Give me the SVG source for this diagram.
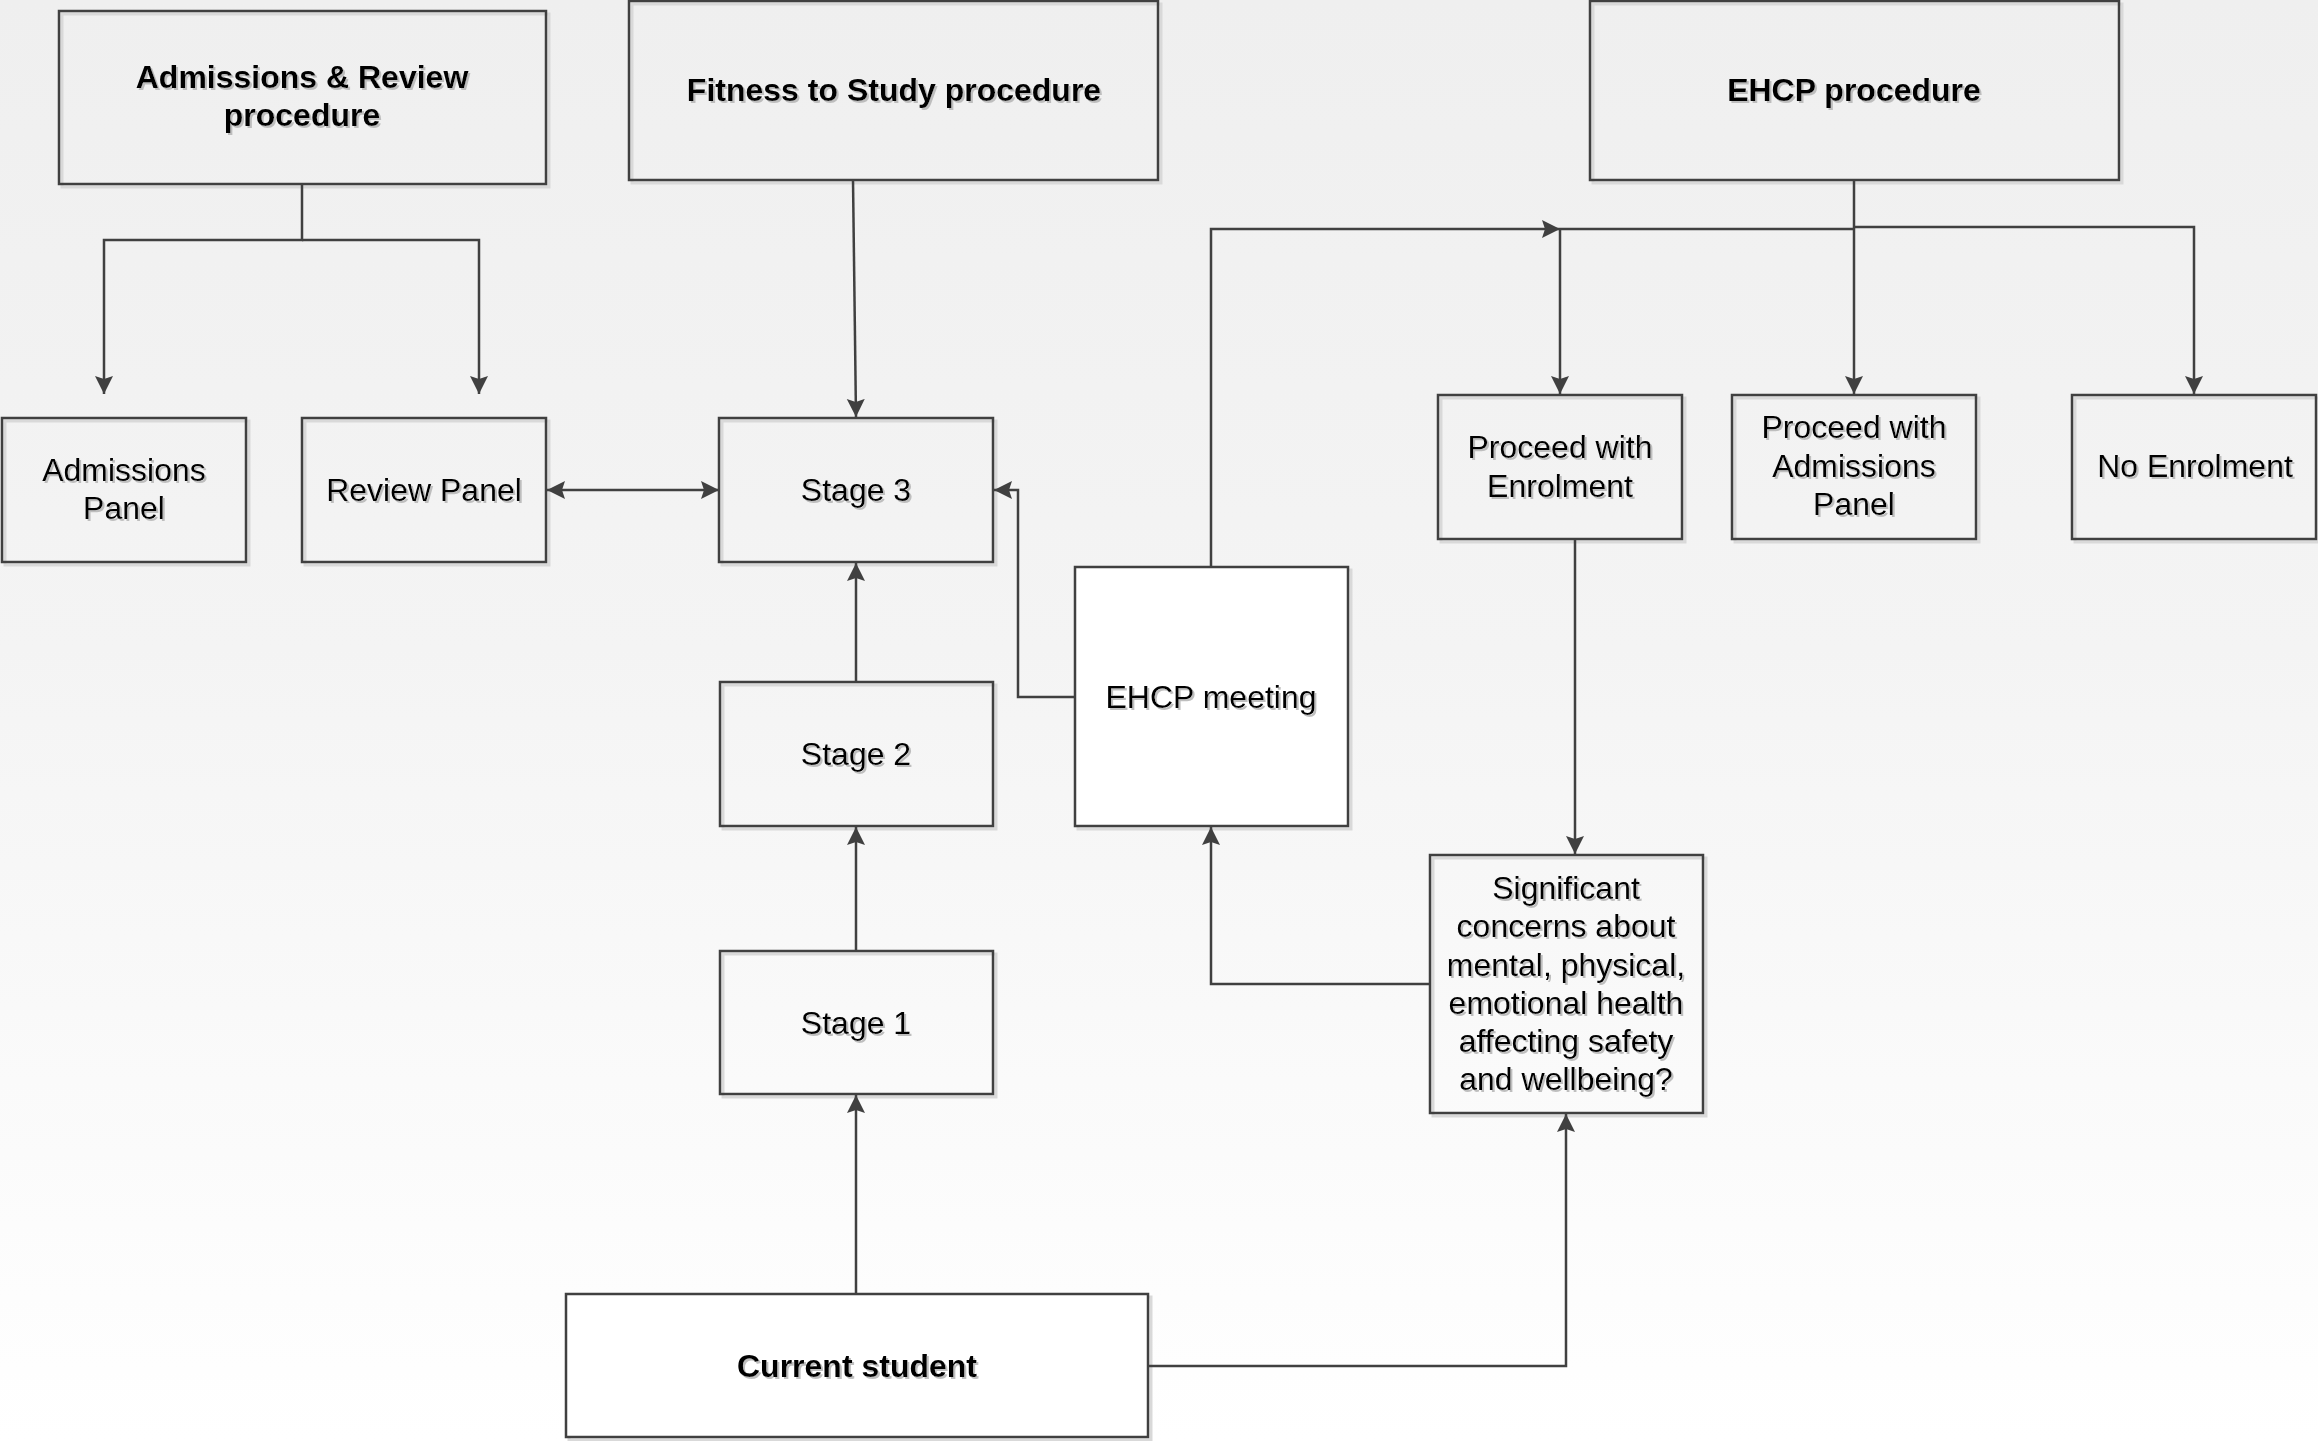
<svg xmlns="http://www.w3.org/2000/svg" width="2318" height="1441" viewBox="0 0 2318 1441">
<defs>
<linearGradient id="bg" x1="0" y1="0" x2="0" y2="1">
<stop offset="0" stop-color="#efefef"/>
<stop offset="0.45" stop-color="#f4f4f4"/>
<stop offset="1" stop-color="#ffffff"/>
</linearGradient>
<filter id="ts" x="-5%" y="-20%" width="110%" height="140%">
<feDropShadow dx="2" dy="2" stdDeviation="0.6" flood-color="#b8b8b8" flood-opacity="0.9"/>
</filter>
<marker id="arr" markerUnits="userSpaceOnUse" markerWidth="20" markerHeight="20" viewBox="0 0 20 20" refX="18" refY="9" orient="auto-start-reverse">
<path d="M0,0 L18,9 L0,18 L3,9 z" fill="#404040"/>
</marker>
<style>
.box{fill:none;stroke:#404040;stroke-width:2.5}
.wbox{fill:#ffffff;stroke:#404040;stroke-width:2.5}
.sh{fill:none;stroke:#d9d9d9;stroke-width:3}
.t{font-family:"Liberation Sans",Arial,sans-serif;font-size:32px;fill:#000;text-anchor:middle;filter:url(#ts)}
.b{font-weight:bold}
.c{fill:none;stroke:#404040;stroke-width:2.5}
</style>
</defs>
<rect x="0" y="0" width="2318" height="1441" fill="url(#bg)"/>

<g id="admissions-review-procedure">
<rect class="sh" x="62" y="14" width="487" height="173"/>
<rect class="box" x="59" y="11" width="487" height="173"/>
<text class="t b" x="302" y="88">Admissions &amp; Review</text>
<text class="t b" x="302" y="126">procedure</text>
</g>

<g id="fitness-to-study-procedure">
<rect class="sh" x="632" y="4" width="529" height="179"/>
<rect class="box" x="629" y="1" width="529" height="179"/>
<text class="t b" x="894" y="101">Fitness to Study procedure</text>
</g>

<g id="ehcp-procedure">
<rect class="sh" x="1593" y="4" width="529" height="179"/>
<rect class="box" x="1590" y="1" width="529" height="179"/>
<text class="t b" x="1854" y="101">EHCP procedure</text>
</g>

<g id="admissions-panel">
<rect class="sh" x="5" y="421" width="244" height="144"/>
<rect class="box" x="2" y="418" width="244" height="144"/>
<text class="t" x="124" y="481">Admissions</text>
<text class="t" x="124" y="519">Panel</text>
</g>

<g id="review-panel">
<rect class="sh" x="305" y="421" width="244" height="144"/>
<rect class="box" x="302" y="418" width="244" height="144"/>
<text class="t" x="424" y="501">Review Panel</text>
</g>

<g id="stage-3">
<rect class="sh" x="722" y="421" width="274" height="144"/>
<rect class="box" x="719" y="418" width="274" height="144"/>
<text class="t" x="856" y="501">Stage 3</text>
</g>

<g id="stage-2">
<rect class="sh" x="723" y="685" width="273" height="144"/>
<rect class="box" x="720" y="682" width="273" height="144"/>
<text class="t" x="856" y="765">Stage 2</text>
</g>

<g id="stage-1">
<rect class="sh" x="723" y="954" width="273" height="143"/>
<rect class="box" x="720" y="951" width="273" height="143"/>
<text class="t" x="856" y="1034">Stage 1</text>
</g>

<g id="ehcp-meeting">
<rect class="sh" x="1078" y="570" width="273" height="259"/>
<rect class="wbox" x="1075" y="567" width="273" height="259"/>
<text class="t" x="1211" y="708">EHCP meeting</text>
</g>

<g id="current-student">
<rect class="sh" x="569" y="1297" width="582" height="143"/>
<rect class="wbox" x="566" y="1294" width="582" height="143"/>
<text class="t b" x="857" y="1377">Current student</text>
</g>

<g id="proceed-with-enrolment">
<rect class="sh" x="1441" y="398" width="244" height="144"/>
<rect class="box" x="1438" y="395" width="244" height="144"/>
<text class="t" x="1560" y="458">Proceed with</text>
<text class="t" x="1560" y="497">Enrolment</text>
</g>

<g id="proceed-with-admissions-panel">
<rect class="sh" x="1735" y="398" width="244" height="144"/>
<rect class="box" x="1732" y="395" width="244" height="144"/>
<text class="t" x="1854" y="438">Proceed with</text>
<text class="t" x="1854" y="477">Admissions</text>
<text class="t" x="1854" y="515">Panel</text>
</g>

<g id="no-enrolment">
<rect class="sh" x="2075" y="398" width="244" height="144"/>
<rect class="box" x="2072" y="395" width="244" height="144"/>
<text class="t" x="2195" y="477">No Enrolment</text>
</g>

<g id="significant-concerns">
<rect class="sh" x="1433" y="858" width="273" height="258"/>
<rect class="box" x="1430" y="855" width="273" height="258"/>
<text class="t" x="1566" y="899">Significant</text>
<text class="t" x="1566" y="937">concerns about</text>
<text class="t" x="1566" y="976">mental, physical,</text>
<text class="t" x="1566" y="1014">emotional health</text>
<text class="t" x="1566" y="1052">affecting safety</text>
<text class="t" x="1566" y="1090">and wellbeing?</text>
</g>

<g id="connectors">
<path class="c" d="M302,184 V240 H104 V394" marker-end="url(#arr)"/>
<path class="c" d="M302,240 H479 V394" marker-end="url(#arr)"/>
<path class="c" d="M853,180 L856,417" marker-end="url(#arr)"/>
<path class="c" d="M547,490 H719" marker-start="url(#arr)" marker-end="url(#arr)"/>
<path class="c" d="M1075,697 H1018 V490 H994" marker-end="url(#arr)"/>
<path class="c" d="M1211,567 V229 H1560" marker-end="url(#arr)"/>
<path class="c" d="M1560,229 H1854"/>
<path class="c" d="M1560,229 V394" marker-end="url(#arr)"/>
<path class="c" d="M1854,180 V394" marker-end="url(#arr)"/>
<path class="c" d="M1854,227 H2194 V394" marker-end="url(#arr)"/>
<path class="c" d="M1575,539 V854" marker-end="url(#arr)"/>
<path class="c" d="M1430,984 H1211 V827" marker-end="url(#arr)"/>
<path class="c" d="M1148,1366 H1566 V1114" marker-end="url(#arr)"/>
<path class="c" d="M856,1294 V1095" marker-end="url(#arr)"/>
<path class="c" d="M856,951 V827" marker-end="url(#arr)"/>
<path class="c" d="M856,682 V563" marker-end="url(#arr)"/>
</g>
</svg>
